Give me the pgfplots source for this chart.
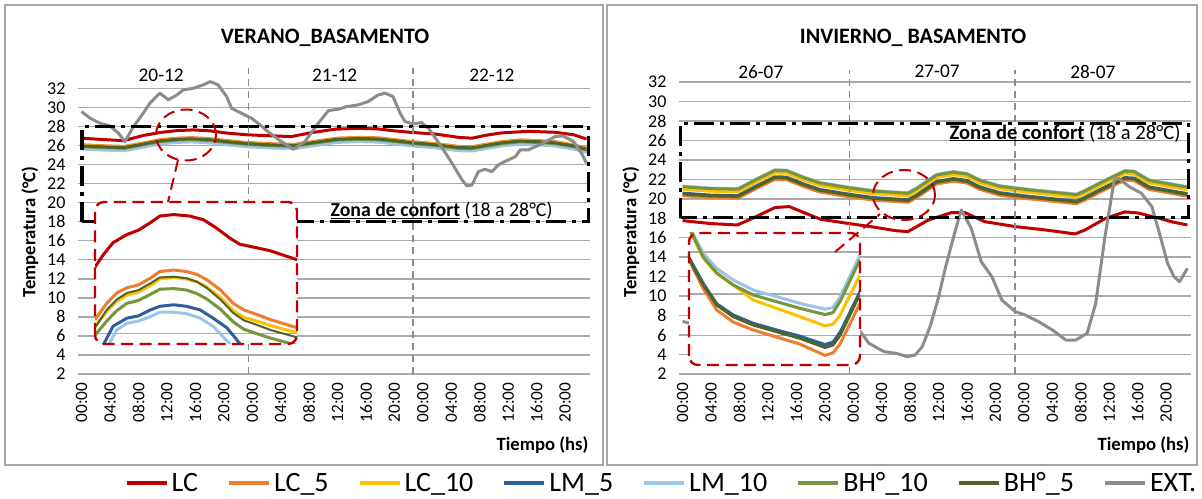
\documentclass[border=0pt]{standalone}
\usepackage{pgfplots}
\pgfplotsset{compat=1.18}
\usepackage{pgfplotstable}
\usepackage{fontspec}
\setmainfont{Carlito}

\newcommand{\fs}[1]{\fontsize{#1}{#1}\selectfont}

\definecolor{cLC}{RGB}{192,0,0}
\definecolor{cLCfive}{RGB}{237,125,49}
\definecolor{cLCten}{RGB}{255,192,0}
\definecolor{cLMfive}{RGB}{46,95,155}
\definecolor{cLMten}{RGB}{157,195,230}
\definecolor{cBHten}{RGB}{118,150,60}
\definecolor{cBHfive}{RGB}{80,100,40}
\definecolor{cEXT}{RGB}{140,140,140}
\definecolor{cgrid}{RGB}{170,170,170}
\definecolor{cframe}{RGB}{165,165,165}

% ---------------- verano (20-12 a 22-12) ----------------
\pgfplotstableread{
h O Y B LB G DG
0 26.07 26.00 25.70 25.62 25.87 25.95
3 25.97 25.90 25.60 25.52 25.77 25.85
6 25.90 25.83 25.53 25.45 25.70 25.78
8.7 26.27 26.20 25.90 25.82 26.07 26.15
11 26.60 26.53 26.23 26.15 26.40 26.48
13.5 26.77 26.70 26.40 26.32 26.57 26.65
15.5 26.82 26.75 26.45 26.37 26.62 26.70
18 26.72 26.65 26.35 26.27 26.52 26.60
20.4 26.52 26.45 26.15 26.07 26.32 26.40
23.2 26.32 26.25 25.95 25.87 26.12 26.20
26 26.20 26.13 25.83 25.75 26.00 26.08
28.5 26.14 26.07 25.77 25.69 25.94 26.02
30 26.12 26.05 25.75 25.67 25.92 26.00
33.3 26.50 26.43 26.13 26.05 26.30 26.38
36 26.77 26.70 26.40 26.32 26.57 26.65
39 26.85 26.78 26.48 26.40 26.65 26.73
41.7 26.80 26.73 26.43 26.35 26.60 26.68
44 26.62 26.55 26.25 26.17 26.42 26.50
46.7 26.39 26.32 26.02 25.94 26.19 26.27
49.7 26.20 26.13 25.83 25.75 26.00 26.08
53 25.90 25.83 25.53 25.45 25.70 25.78
54.9 25.87 25.80 25.50 25.42 25.67 25.75
56.7 26.10 26.03 25.73 25.65 25.90 25.98
59.1 26.40 26.33 26.03 25.95 26.20 26.28
61.7 26.58 26.51 26.21 26.13 26.38 26.46
64 26.52 26.45 26.15 26.07 26.32 26.40
66.5 26.40 26.33 26.03 25.95 26.20 26.28
69.2 26.07 26.00 25.70 25.62 25.87 25.95
71 25.72 25.65 25.35 25.27 25.52 25.60
}\bandL

\pgfplotstableread{
h v
0 26.76
3 26.62
5.9 26.50
8.7 27.05
11 27.35
13.4 27.56
15.7 27.63
18.1 27.53
20.4 27.30
23.2 27.12
26 27.03
29.5 26.93
32.4 27.35
35.6 27.70
38.9 27.80
41.7 27.73
44.1 27.52
46.7 27.35
49.7 27.20
53 26.85
54.9 26.76
56.7 27.05
59.1 27.32
62.8 27.48
66.6 27.38
69.2 27.12
71 26.68
}\lcL

\pgfplotstableread{
h v
0 29.55
1.2 28.86
2.6 28.33
4.0 28.05
5.2 27.28
6.1 26.40
7.3 27.98
8.5 29.20
9.6 30.43
11.0 31.49
12.2 30.80
13.4 31.30
14.3 31.83
15.7 32.00
17.1 32.36
18.1 32.70
19.2 32.36
20.4 31.13
21.1 29.90
22.5 29.38
23.9 28.86
25.1 28.16
26.5 27.28
28.1 26.40
29.8 25.60
31.4 26.40
33.3 28.33
34.7 29.66
36.1 29.80
37.3 30.08
38.9 30.26
40.3 30.60
41.7 31.30
42.7 31.49
43.8 31.13
44.8 29.38
45.5 28.50
46.6 28.26
47.8 28.40
48.8 27.80
50.6 25.88
52.1 24.13
53.5 22.38
54.2 21.75
54.9 21.85
55.8 23.25
56.7 23.50
57.7 23.25
58.6 23.95
59.5 24.30
61.0 24.82
61.7 25.53
62.8 25.53
64.9 26.23
66.6 26.93
67.7 27.00
69.2 26.40
70.3 25.18
71.0 24.13
}\extL

% ampliacion verano
\pgfplotstableread{
h v
7.0 26.90
7.8 27.07
8.7 27.23
10.0 27.34
11.1 27.40
12.2 27.50
13.1 27.59
14.4 27.61
15.9 27.59
17.2 27.54
18.4 27.43
19.7 27.29
20.6 27.21
21.9 27.17
23.5 27.12
26 27.00
}\zlcL

\pgfplotstableread{
h O Y DG G
7.0 26.19 26.10 26.08 25.98
8.1 26.41 26.30 26.32 26.17
9.04 26.55 26.44 26.46 26.31
10.0 26.62 26.52 26.55 26.41
11.1 26.66 26.56 26.59 26.45
12.2 26.75 26.65 26.68 26.53
13.1 26.84 26.74 26.76 26.60
14.4 26.86 26.76 26.77 26.61
15.6 26.84 26.74 26.75 26.59
16.6 26.80 26.70 26.70 26.54
17.5 26.73 26.63 26.62 26.47
18.8 26.59 26.49 26.46 26.33
20.0 26.41 26.31 26.28 26.16
21.0 26.32 26.22 26.18 26.06
22.2 26.26 26.17 26.12 26.00
23.5 26.19 26.11 26.05 25.94
26 26.08 26.01 25.95 25.84
}\zbandL

\pgfplotstableread{
h v
7.6 25.80
8.7 26.10
10.0 26.21
11.1 26.24
12.2 26.32
13.1 26.37
14.4 26.39
15.6 26.37
16.9 26.32
18.1 26.21
19.4 26.08
20.6 25.87
20.8 25.80
}\zlmfL

\pgfplotstableread{
h v
8.1 25.80
9.04 26.05
10.0 26.14
11.1 26.17
12.2 26.23
13.1 26.29
14.4 26.29
15.6 26.27
16.9 26.21
18.1 26.10
19.7 25.86
19.8 25.80
}\zlmtL

% ---------------- invierno (26-07 a 28-07) ----------------
\pgfplotstableread{
h O Y B LB G DG
0 20.32 20.98 20.58 21.30 21.24 20.50
4 20.12 20.78 20.38 21.10 21.04 20.30
7.8 20.07 20.73 20.33 21.05 20.99 20.25
10.4 21.07 21.73 21.33 22.05 21.99 21.25
13 22.00 22.66 22.26 22.98 22.92 22.18
14.6 21.97 22.63 22.23 22.95 22.89 22.15
17 21.27 21.93 21.53 22.25 22.19 21.45
19.3 20.70 21.36 20.96 21.68 21.62 20.88
23.5 20.20 20.86 20.46 21.18 21.12 20.38
26.8 19.87 20.53 20.13 20.85 20.79 20.05
31.7 19.64 20.30 19.90 20.62 20.56 19.82
32.9 20.12 20.78 20.38 21.10 21.04 20.30
35.7 21.52 22.18 21.78 22.50 22.44 21.70
38.1 21.82 22.48 22.08 22.80 22.74 22.00
40 21.62 22.28 21.88 22.60 22.54 21.80
41.8 20.97 21.63 21.23 21.95 21.89 21.15
44.6 20.37 21.03 20.63 21.35 21.29 20.55
48.4 20.02 20.68 20.28 21.00 20.94 20.20
53.1 19.67 20.33 19.93 20.65 20.59 19.85
55.4 19.50 20.16 19.76 20.48 20.42 19.68
56.4 19.82 20.48 20.08 20.80 20.74 20.00
59.2 20.87 21.53 21.13 21.85 21.79 21.05
62.2 21.92 22.58 22.18 22.90 22.84 22.10
63.5 21.87 22.53 22.13 22.85 22.79 22.05
65.6 20.97 21.63 21.23 21.95 21.89 21.15
69.4 20.47 21.13 20.73 21.45 21.39 20.65
71 20.27 20.93 20.53 21.25 21.19 20.45
}\bandR

\pgfplotstableread{
h v
0 17.76
4 17.45
7.7 17.31
10 18.05
13 19.10
15 19.20
17 18.60
19.4 17.90
23 17.50
27 17.08
30 16.72
31.7 16.63
34.5 17.80
37.8 18.58
39.7 18.58
42.5 17.65
46.8 17.14
51 16.80
55.2 16.39
56.6 16.80
59.5 18.00
62.2 18.65
64 18.55
66.5 18.10
69 17.60
71 17.31
}\lcR

\pgfplotstableread{
h v
0 7.40
3 6.90
7 6.20
10 8.50
13 12.00
15 13.00
17 11.50
20 9.00
23 7.20
25.0 6.35
26.2 5.16
28.3 4.30
30.0 4.13
31.6 3.78
32.7 3.95
33.7 4.80
34.8 6.86
35.9 9.60
37.0 13.03
38.0 15.77
38.9 18.17
39.2 18.85
40.6 16.97
42.0 13.54
43.5 12.00
44.9 9.60
46.8 8.40
48.2 8.06
50.1 7.37
52.0 6.52
53.9 5.49
55.3 5.49
56.9 6.18
58.1 9.27
59.4 16.11
60.7 21.90
61.3 22.10
62.8 21.25
64.5 20.57
66.0 19.20
67.2 16.10
68.2 13.38
69.1 12.00
69.9 11.49
70.7 12.50
71.0 12.86
}\extR

% ampliacion invierno
\pgfplotstableread{
h O Y B LB G DG
24.0 21.84 22.55 21.88 22.63 22.60 21.86
24.24 21.60 22.35 21.68 22.43 22.38 21.64
24.8 21.12 21.85 21.24 21.97 21.88 21.21
25.54 20.61 21.49 20.76 21.61 21.50 20.73
26.46 20.32 21.21 20.49 21.33 21.21 20.45
27.57 20.13 20.85 20.29 21.09 20.97 20.25
28.87 19.96 20.65 20.13 20.93 20.81 20.09
30.17 19.79 20.45 19.98 20.77 20.65 19.93
31.56 19.52 20.23 19.78 20.63 20.50 19.71
32.0 19.58 20.27 19.84 20.67 20.55 19.77
32.4 19.80 20.49 20.08 20.93 20.82 20.01
33.5 20.77 21.45 21.05 21.93 21.82 21.00
}\zbandR

\pgfplotsset{
  mainax/.style={
    scale only axis, width=512pt,
    xmin=-0.5, xmax=71.5, ymin=2, ymax=32,
    ytick={2,4,...,32},
    xtick={0,4,...,68},
    xticklabels={00:00,04:00,08:00,12:00,16:00,20:00,00:00,04:00,08:00,12:00,16:00,20:00,00:00,04:00,08:00,12:00,16:00,20:00},
    ymajorgrids, grid style={cgrid, line width=1.5pt},
    axis line style={draw=none}, major tick length=0pt, tick style={draw=none},
    xticklabel style={rotate=90, anchor=east, font=\fs{17.3}},
    xticklabel shift=5pt,
    yticklabel style={font=\fs{18}},
    yticklabel shift=9pt,
    /pgf/number format/assume math mode=true,
    clip=false, no markers,
    every axis plot/.append style={line width=3pt, line join=round},
  },
  inax/.style={
    scale only axis, no markers,
    axis line style={draw=none}, tick style={draw=none},
    xtick=\empty, yticklabels={},
    ymajorgrids, grid style={cgrid, line width=1.5pt},
    every axis plot/.append style={line width=3pt, line join=round},
  },
}
\tikzset{
  confort/.style={black, line width=3.2pt, dash pattern=on 20pt off 6pt on 4pt off 6pt},
  diasep/.style={cEXT, line width=1.5pt, dash pattern=on 7pt off 5pt},
  zoomrojo/.style={cLC, line width=2.4pt, dash pattern=on 12pt off 6.5pt},
}

\begin{document}
\begin{tikzpicture}
\useasboundingbox (0pt,0pt) rectangle (1202pt,498pt);
\draw[cframe, line width=1.5pt] (5pt,33pt) rectangle (603pt,493pt);
\draw[cframe, line width=1.5pt] (607pt,33pt) rectangle (1197pt,493pt);

% ===== panel izquierdo =====
\begin{axis}[mainax, at={(78pt,124pt)}, anchor=south west, height=285.7pt,
  legend columns=8,
  legend style={at={(1.1406,-0.3815)}, anchor=center, draw=none, fill=none,
    font=\fs{28}, nodes={inner xsep=3pt},
    /tikz/every even column/.append style={column sep=26pt}},
  legend image code/.code={\draw[#1, line width=4pt] (0pt,0pt) -- (40pt,0pt);},
]
\addplot[cLC] table[x=h, y=v] {\lcL};
\addplot[cLCfive] table[x=h, y=O] {\bandL};
\addplot[cLCten] table[x=h, y=Y] {\bandL};
\addplot[cLMfive] table[x=h, y=B] {\bandL};
\addplot[cLMten] table[x=h, y=LB] {\bandL};
\addplot[cBHten] table[x=h, y=G] {\bandL};
\addplot[cBHfive] table[x=h, y=DG] {\bandL};
\addplot[cEXT] table[x=h, y=v] {\extL};
\legend{LC,LC\_5,LC\_10,LM\_5,LM\_10,BH°\_10,BH°\_5,EXT.}
\draw[confort] (axis cs:0.05,18) rectangle (axis cs:71.3,28);
\draw[diasep] (axis cs:23.5,2) -- (axis cs:23.5,34.1);
\draw[diasep] (axis cs:46.6,2) -- (axis cs:46.6,34.1);
\node[font=\fs{19.3}] at (axis cs:11.2,33.4) {20-12};
\node[font=\fs{19.3}] at (axis cs:35.6,33.4) {21-12};
\node[font=\fs{19.3}] at (axis cs:57.7,33.4) {22-12};
\end{axis}

\fill[white, rounded corners=9pt] (95pt,154pt) rectangle (297pt,296pt);
\begin{axis}[inax, at={(95pt,154pt)}, anchor=south west, width=202pt, height=142pt,
  xmin=7, xmax=26, ymin=25.86, ymax=27.78, ytick={26,27}]
\addplot[cLC] table[x=h, y=v] {\zlcL};
\addplot[cLCfive] table[x=h, y=O] {\zbandL};
\addplot[cLCten] table[x=h, y=Y] {\zbandL};
\addplot[cLMfive] table[x=h, y=v] {\zlmfL};
\addplot[cLMten] table[x=h, y=v] {\zlmtL};
\addplot[cBHten] table[x=h, y=G] {\zbandL};
\addplot[cBHfive, line width=2pt] table[x=h, y=DG] {\zbandL};
\end{axis}
\draw[zoomrojo, rounded corners=9pt] (95pt,154pt) rectangle (297pt,296pt);
\draw[zoomrojo, line width=2pt] (186pt,363pt) ellipse [x radius=30pt, y radius=25.5pt];
\draw[zoomrojo, line width=2pt] (178pt,338pt) -- (168pt,296pt);

\node[font=\bfseries\fs{22}] at (325pt,460pt) {VERANO\_BASAMENTO};
\node[rotate=90, font=\bfseries\fs{18.7}] at (30pt,266pt) {Temperatura (°C)};
\node[anchor=east, font=\bfseries\fs{18.7}] at (592pt,53pt) {Tiempo (hs)};
\node[anchor=west, font=\fs{19.8}] at (327pt,287pt) {\textbf{\underline{Zona de confort}} (18 a 28°C)};

% ===== panel derecho =====
\begin{axis}[mainax, at={(679pt,124pt)}, anchor=south west, height=292pt]
\addplot[cLC] table[x=h, y=v] {\lcR};
\addplot[cLCfive] table[x=h, y=O] {\bandR};
\addplot[cLCten] table[x=h, y=Y] {\bandR};
\addplot[cLMfive] table[x=h, y=B] {\bandR};
\addplot[cLMten] table[x=h, y=LB] {\bandR};
\addplot[cBHten] table[x=h, y=G] {\bandR};
\addplot[cBHfive] table[x=h, y=DG] {\bandR};
\addplot[cEXT] table[x=h, y=v] {\extR};
\draw[confort] (axis cs:-0.25,18.05) rectangle (axis cs:71.1,27.77);
\draw[diasep] (axis cs:23.5,2) -- (axis cs:23.5,33.2);
\draw[diasep] (axis cs:46.75,2) -- (axis cs:46.75,33.2);
\node[font=\fs{19.3}] at (axis cs:11.0,33.07) {26-07};
\node[font=\fs{19.3}] at (axis cs:35.8,33.07) {27-07};
\node[font=\fs{19.3}] at (axis cs:57.7,33.07) {28-07};
\end{axis}

\fill[white, rounded corners=9pt] (689pt,133pt) rectangle (860pt,265pt);
\begin{axis}[inax, at={(689pt,133pt)}, anchor=south west, width=171pt, height=132pt,
  xmin=24, xmax=33.5, ymin=19.29, ymax=22.46, ytick={20,21,22}]
\addplot[cLCfive] table[x=h, y=O] {\zbandR};
\addplot[cLCten] table[x=h, y=Y] {\zbandR};
\addplot[cLMfive] table[x=h, y=B] {\zbandR};
\addplot[cLMten] table[x=h, y=LB] {\zbandR};
\addplot[cBHten] table[x=h, y=G] {\zbandR};
\addplot[cBHfive] table[x=h, y=DG] {\zbandR};
\end{axis}
\draw[zoomrojo, rounded corners=9pt] (689pt,133pt) rectangle (860pt,265pt);
\draw[zoomrojo, line width=2pt] (904pt,303pt) ellipse [x radius=31pt, y radius=25pt];
\draw[zoomrojo, line width=2pt] (835pt,246pt) -- (880pt,284pt);

\node[font=\bfseries\fs{22}] at (913pt,460pt) {INVIERNO\_ BASAMENTO};
\node[rotate=90, font=\bfseries\fs{18.7}] at (631pt,266pt) {Temperatura (°C)};
\node[anchor=east, font=\bfseries\fs{18.7}] at (1193pt,53pt) {Tiempo (hs)};
\node[anchor=west, font=\fs{20.6}] at (946pt,365pt) {\textbf{\underline{Zona de confort}} (18 a 28°C)};
\end{tikzpicture}
\end{document}
